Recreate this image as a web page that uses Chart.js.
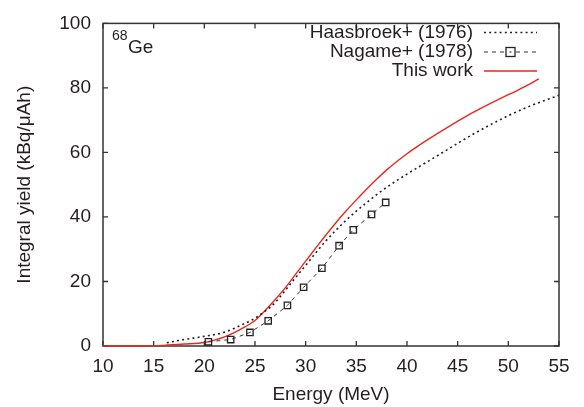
<!DOCTYPE html>
<html>
<head>
<meta charset="utf-8">
<script src="https://cdn.jsdelivr.net/npm/chart.js@4.4.0/dist/chart.umd.min.js"></script>
<style>
  html, body { margin: 0; padding: 0; background: #fff; }
</style>
</head>
<body>
<canvas id="myChart" width="584" height="407"></canvas>
<script>
// Haasbroek+ (1976), dotted
var haasEnergy = [16.3, 18, 20, 22, 24, 25, 26, 27, 28, 29, 30, 31, 32, 33, 34, 35, 36, 37, 38, 39, 40, 42, 44, 46, 48, 50, 52, 54, 55];
var haasYield  = [1.0, 2.0, 3.0, 4.3, 7.0, 8.6, 10.8, 13.5, 17.3, 21.2, 25.0, 28.9, 32.6, 35.9, 39.0, 41.8, 44.4, 46.9, 49.2, 51.3, 53.3, 57.1, 60.9, 64.7, 68.2, 71.4, 74.2, 76.6, 77.7];

// Nagame+ (1978), squares
var nagEnergy = [20.4, 22.6, 24.5, 26.3, 28.2, 29.8, 31.6, 33.3, 34.7, 36.5, 37.9];
var nagYield  = [1.3, 2.0, 4.2, 7.8, 12.6, 18.2, 24.1, 31.1, 36.0, 40.8, 44.5];

// This work, red line
var workEnergy = [10, 14, 16, 18, 20, 21, 22, 23, 24, 25, 26, 27, 28, 29, 30, 31, 32, 33, 34, 35, 36, 37, 38, 39, 40, 41, 42, 44, 46, 48, 50, 51, 52, 53];
var workYield  = [0, 0, 0.2, 0.6, 1.1, 1.8, 2.8, 4.2, 5.9, 7.9, 11.0, 14.4, 18.1, 22.2, 26.3, 30.4, 34.4, 38.3, 41.9, 45.3, 48.6, 51.7, 54.6, 57.2, 59.6, 61.8, 63.9, 67.8, 71.5, 74.8, 77.9, 79.4, 81.0, 82.8];

var xTickValues = [10, 15, 20, 25, 30, 35, 40, 45, 50, 55];
var yTickValues = [0, 20, 40, 60, 80, 100];

var seriesLabels = ["Haasbroek+ (1976)", "Nagame+ (1978)", "This work"];

function toPoints(xs, ys) {
  return xs.map(function(x, i) { return {x: x, y: ys[i]}; });
}

var fontFamily = "'Liberation Sans', Arial, sans-serif";
var textColor = "#231f20";
var axisColor = "#333333";
var redColor = "#e8281f";

var framePlugin = {
  id: "frame",
  beforeDatasetsDraw: function(chart) {
    var ctx = chart.ctx, a = chart.chartArea;
    var x = chart.scales.x, y = chart.scales.y;
    ctx.save();
    ctx.strokeStyle = axisColor;
    ctx.lineWidth = 1.3;
    ctx.beginPath();
    x.ticks.forEach(function(t) {
      var px = x.getPixelForValue(t.value);
      ctx.moveTo(px, a.bottom); ctx.lineTo(px, a.bottom - 5);
      ctx.moveTo(px, a.top); ctx.lineTo(px, a.top + 5);
    });
    y.ticks.forEach(function(t) {
      var py = y.getPixelForValue(t.value);
      ctx.moveTo(a.left, py); ctx.lineTo(a.left + 5, py);
      ctx.moveTo(a.right, py); ctx.lineTo(a.right - 5, py);
    });
    ctx.stroke();
    ctx.lineWidth = 1.5;
    ctx.strokeRect(a.left, a.top, a.right - a.left, a.bottom - a.top);
    ctx.restore();
  },
  afterDatasetsDraw: function(chart) {
    var ctx = chart.ctx;
    ctx.save();
    ctx.fillStyle = textColor;
    // nuclide label
    ctx.textAlign = "left";
    ctx.textBaseline = "alphabetic";
    ctx.font = "14px " + fontFamily;
    ctx.fillText("68", 112, 40);
    ctx.font = "19px " + fontFamily;
    ctx.fillText("Ge", 128, 53);

    // legend, text right aligned with sample to the right
    var textX = 473, x0 = 484, x1 = 537;
    var rows = [37.5, 57, 76];
    ctx.font = "19px " + fontFamily;
    ctx.textAlign = "right";
    chart.data.datasets.forEach(function(ds, i) {
      var by = rows[i];
      var ly = by - 5;
      ctx.fillStyle = textColor;
      ctx.fillText(ds.label, textX, by);
      ctx.strokeStyle = ds.borderColor;
      ctx.lineWidth = ds.borderWidth;
      ctx.setLineDash(ds.borderDash || []);
      ctx.beginPath();
      ctx.moveTo(x0, ly); ctx.lineTo(x1, ly);
      ctx.stroke();
      ctx.setLineDash([]);
      if (ds.pointRadius > 0) {
        var mx = (x0 + x1) / 2, r = ds.pointRadius;
        ctx.fillStyle = "#fff";
        ctx.fillRect(mx - r - 1, ly - r - 1, 2 * r + 2, 2 * r + 2);
        ctx.strokeStyle = ds.pointBorderColor;
        ctx.lineWidth = ds.pointBorderWidth;
        ctx.strokeRect(mx - r, ly - r, 2 * r, 2 * r);
        ctx.fillStyle = textColor;
        ctx.fillRect(mx - 1, ly - 0.5, 2, 1);
      }
    });
    ctx.restore();
  }
};

new Chart("myChart", {
  type: "line",
  data: {
    datasets: [{
      label: seriesLabels[0],
      data: toPoints(haasEnergy, haasYield),
      borderColor: "#222",
      borderWidth: 1.6,
      borderDash: [2, 3.2],
      pointRadius: 0,
      cubicInterpolationMode: "monotone",
      fill: false
    }, {
      label: seriesLabels[1],
      data: toPoints(nagEnergy, nagYield),
      borderColor: "#333",
      borderWidth: 1,
      borderDash: [4, 4],
      pointStyle: "rect",
      pointRadius: 4.5,
      pointBorderWidth: 1.3,
      pointBorderColor: "#222",
      pointBackgroundColor: "rgba(255,255,255,0)",
      tension: 0,
      fill: false
    }, {
      label: seriesLabels[2],
      data: toPoints(workEnergy, workYield),
      borderColor: redColor,
      borderWidth: 1.4,
      pointRadius: 0,
      cubicInterpolationMode: "monotone",
      clip: false,
      fill: false
    }]
  },
  options: {
    responsive: false,
    animation: false,
    layout: { padding: { left: 0, top: 16, right: 25, bottom: 0 } },
    plugins: {
      legend: { display: false },
      tooltip: { enabled: false }
    },
    scales: {
      x: {
        type: "linear",
        min: 10, max: 55,
        afterBuildTicks: function(s) { s.ticks = xTickValues.map(function(v) { return {value: v}; }); },
        afterFit: function(s) { s.height = 61; },
        grid: { display: false, drawTicks: false },
        border: { display: false },
        ticks: { padding: 9, color: textColor, font: { family: fontFamily, size: 19 } },
        title: { display: true, text: "Energy (MeV)", color: textColor, padding: { top: 0, bottom: 1 },
                 font: { family: fontFamily, size: 19 } }
      },
      y: {
        type: "linear",
        min: 0, max: 100,
        afterBuildTicks: function(s) { s.ticks = yTickValues.map(function(v) { return {value: v}; }); },
        afterFit: function(s) { s.width = 103; },
        grid: { display: false, drawTicks: false },
        border: { display: false },
        ticks: { padding: 12, color: textColor, font: { family: fontFamily, size: 19 } },
        title: { display: true, text: "Integral yield (kBq/\u03bcAh)", color: textColor, padding: { top: 13, bottom: 0 },
                 font: { family: fontFamily, size: 19 } }
      }
    }
  },
  plugins: [framePlugin]
});
</script>
</body>
</html>
